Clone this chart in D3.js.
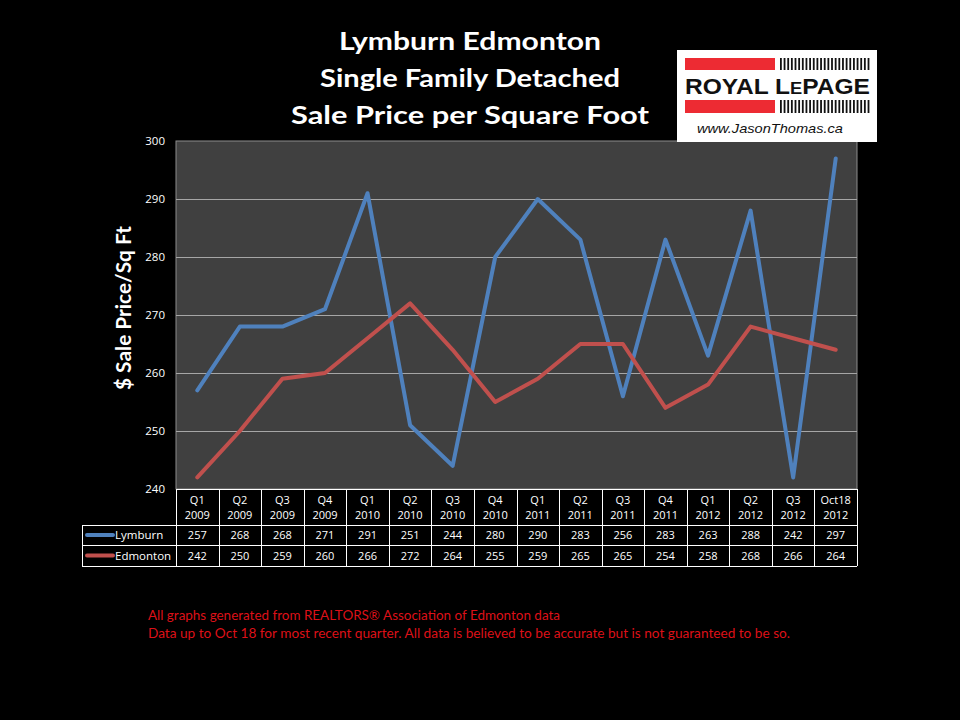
<!DOCTYPE html>
<html><head><meta charset="utf-8">
<script src="https://cdn.jsdelivr.net/npm/d3@7"></script>
<style>body{margin:0;background:#000;}svg{display:block;}</style>
</head><body>
<script>
const quarters = ["Q1","Q2","Q3","Q4","Q1","Q2","Q3","Q4","Q1","Q2","Q3","Q4","Q1","Q2","Q3","Oct18"];
const years = ["2009","2009","2009","2009","2010","2010","2010","2010","2011","2011","2011","2011","2012","2012","2012","2012"];
const categories = quarters.map((q,i)=>q+" "+years[i]);
const lymburn = [257,268,268,271,291,251,244,280,290,283,256,283,263,288,242,297];
const edmonton = [242,250,259,260,266,272,264,255,259,265,265,254,258,268,266,264];
const seriesNames = ["Lymburn","Edmonton"];
const seriesColors = ["#4f81bd","#c0504d"];
const yTicks = [240,250,260,270,280,290,300];
const titleLines = ["Lymburn Edmonton","Single Family Detached","Sale Price per Square Foot"];
const yLabel = "$ Sale Price/Sq Ft";
const footLines = ["All graphs generated from REALTORS\u00ae Association of Edmonton data",
  "Data up to Oct 18  for most recent quarter. All data is believed to be accurate but is not guaranteed to be so."];

const W=960,H=720;
const svg=d3.select("body").append("svg").attr("width",W).attr("height",H);
svg.append("rect").attr("width",W).attr("height",H).attr("fill","#000");

const pL=176,pR=857,pT=141,pB=489;
const x=d3.scaleBand().domain(categories).range([pL,pR]).padding(0);
const y=d3.scaleLinear().domain([240,300]).range([pB,pT]);

// plot bg
svg.append("rect").attr("x",pL).attr("y",pT).attr("width",pR-pL).attr("height",pB-pT)
  .attr("fill","#404040").attr("stroke","#8c8c8c").attr("stroke-width",1);

// grid
svg.append("g").selectAll("line").data(yTicks.slice(1,-1)).join("line")
  .attr("x1",pL).attr("x2",pR).attr("y1",d=>Math.round(y(d))+0.5).attr("y2",d=>Math.round(y(d))+0.5)
  .attr("stroke","#a6a6a6").attr("stroke-width",1);

// y axis
const yAxis=d3.axisLeft(y).tickValues(yTicks).tickSize(0).tickPadding(11);
const gy=svg.append("g").attr("transform",`translate(${pL},0)`).call(yAxis);
gy.select(".domain").remove();
gy.selectAll("text").attr("fill","#fff").attr("font-family","'Open Sans',sans-serif").attr("font-size",11.5);

// lines
const cx=d=>x(d)+x.bandwidth()/2;
[lymburn,edmonton].forEach((vals,i)=>{
  const line=d3.line().x((d,j)=>cx(categories[j])).y(d=>y(d));
  svg.append("path").datum(vals).attr("d",line).attr("fill","none")
    .attr("stroke",seriesColors[i]).attr("stroke-width",4).attr("stroke-linejoin","round").attr("stroke-linecap","round");
});

// data table
const rowY=[489,525,545,566];
const tbl=svg.append("g").attr("font-family","'Open Sans',sans-serif").attr("fill","#fff");
const lineCol="#ffffff";
tbl.append("line").attr("x1",pL).attr("x2",pR).attr("y1",rowY[0]+0.5).attr("y2",rowY[0]+0.5).attr("stroke",lineCol);
[1,2,3].forEach(k=>tbl.append("line").attr("x1",82).attr("x2",pR).attr("y1",rowY[k]+0.5).attr("y2",rowY[k]+0.5).attr("stroke",lineCol));
categories.forEach(c=>tbl.append("line").attr("x1",Math.round(x(c))+0.5).attr("x2",Math.round(x(c))+0.5).attr("y1",rowY[0]).attr("y2",rowY[3]).attr("stroke",lineCol));
tbl.append("line").attr("x1",pR+0.5).attr("x2",pR+0.5).attr("y1",rowY[0]).attr("y2",rowY[3]).attr("stroke",lineCol);
tbl.append("line").attr("x1",82.5).attr("x2",82.5).attr("y1",rowY[1]).attr("y2",rowY[3]).attr("stroke",lineCol);
categories.forEach((c,i)=>{
  tbl.append("text").attr("x",cx(c)).attr("y",504).attr("text-anchor","middle").attr("font-size",11).attr("fill","#fff").text(quarters[i]);
  tbl.append("text").attr("x",cx(c)).attr("y",519).attr("text-anchor","middle").attr("font-size",11).attr("fill","#fff").text(years[i]);
  tbl.append("text").attr("x",cx(c)).attr("y",539).attr("text-anchor","middle").attr("font-size",11).attr("fill","#fff").text(lymburn[i]);
  tbl.append("text").attr("x",cx(c)).attr("y",560).attr("text-anchor","middle").attr("font-size",11).attr("fill","#fff").text(edmonton[i]);
});
seriesNames.forEach((n,i)=>{
  const yy=(rowY[i+1]+rowY[i+2])/2;
  tbl.append("line").attr("x1",87).attr("x2",113).attr("y1",yy).attr("y2",yy)
    .attr("stroke",seriesColors[i]).attr("stroke-width",4).attr("stroke-linecap","round");
  tbl.append("text").attr("x",115).attr("y",yy+4).attr("font-size",11.5).attr("fill","#fff").text(n);
});

// title
const titleLens=[262,300,358];
const titleY=[50,87,124];
titleLines.forEach((t,i)=>svg.append("text").attr("x",470).attr("y",titleY[i]).attr("text-anchor","middle")
  .attr("font-family","Lato,'Open Sans',sans-serif").attr("font-weight","bold").attr("font-size",25.5).attr("fill","#fff")
  .attr("textLength",titleLens[i]).attr("lengthAdjust","spacingAndGlyphs").text(t));

// y label
svg.append("text").attr("transform","translate(131,308) rotate(-90)").attr("text-anchor","middle")
  .attr("font-family","Lato,'Open Sans',sans-serif").attr("font-weight","bold").attr("font-size",20).attr("fill","#fff")
  .attr("textLength",164).attr("lengthAdjust","spacingAndGlyphs").text(yLabel);

// footer
footLines.forEach((t,i)=>svg.append("text").attr("x",148).attr("y",620+i*18)
  .attr("font-family","Lato,'Open Sans',sans-serif").attr("font-size",13.5).attr("fill","#dd1018")
  .attr("textLength",i===0?(560-148):(790-148)).attr("lengthAdjust","spacingAndGlyphs").text(t));

// logo
const lg=svg.append("g");
lg.append("rect").attr("x",677).attr("y",50).attr("width",200).attr("height",92).attr("fill","#fff");
[[58,70],[100,113]].forEach(([a,b])=>{
  lg.append("rect").attr("x",685).attr("y",a).attr("width",90).attr("height",b-a).attr("fill","#ed2b33");
  for(let k=0;k<25;k++) lg.append("rect").attr("x",780+k*3.65).attr("y",a).attr("width",1.8).attr("height",b-a).attr("fill","#111");
});
lg.append("text").attr("x",685).attr("y",94).attr("font-family","'Liberation Sans',Arial,sans-serif").attr("font-weight","bold")
  .attr("font-size",21.5).attr("fill","#111").attr("textLength",185).attr("lengthAdjust","spacingAndGlyphs")
  .html('ROYAL L<tspan font-size="16">E</tspan>PAGE');
lg.append("text").attr("x",697).attr("y",133).attr("font-family","'Liberation Sans',Arial,sans-serif").attr("font-style","italic")
  .attr("font-size",13).attr("fill","#111").attr("textLength",146).attr("lengthAdjust","spacingAndGlyphs").text("www.JasonThomas.ca");
</script>
</body></html>
